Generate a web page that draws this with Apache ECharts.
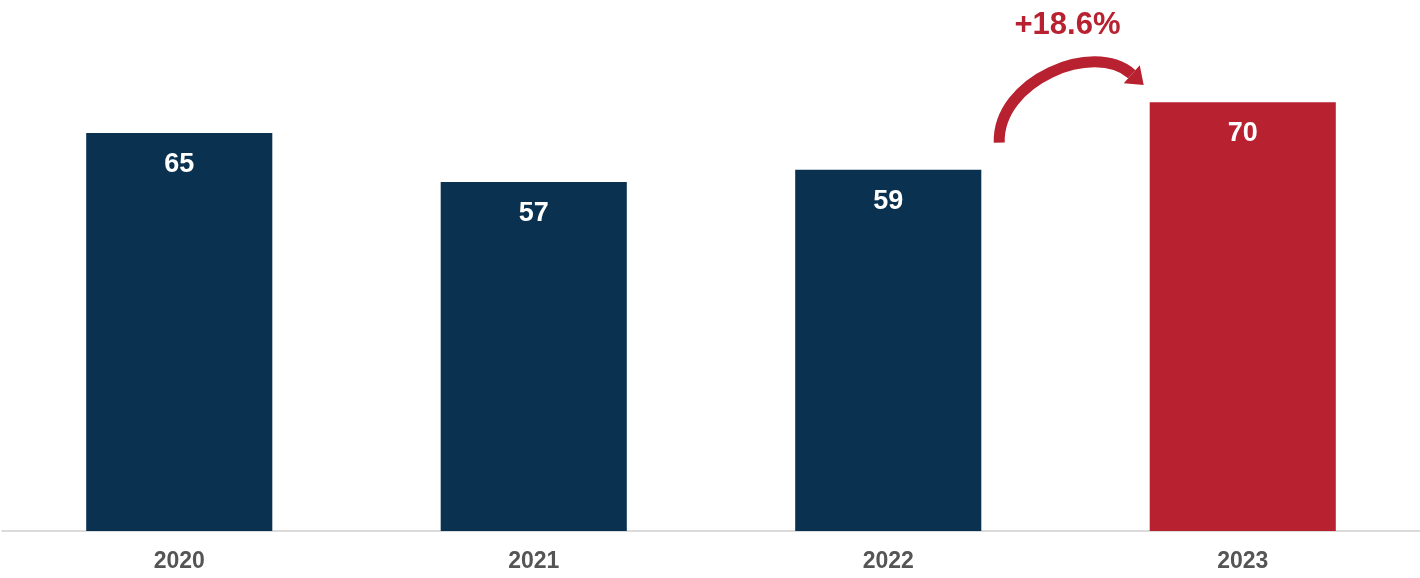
<!DOCTYPE html>
<html><head><meta charset="utf-8">
<script src="https://cdn.jsdelivr.net/npm/echarts@6/dist/echarts.min.js"></script>
<style>html,body{margin:0;padding:0;background:#fff}#c{width:1420px;height:578px}</style>
</head><body><div id="c"></div>
<script>
var categories = ['2020', '2021', '2022', '2023'];
var values = [65, 57, 59, 70];
var growthLabel = '+18.6%';

var NAVY = '#0a3150', RED = '#b8212f';
var chart = echarts.init(document.getElementById('c'), null, {renderer: 'canvas'});
chart.setOption({
  animation: false,
  grid: {left: 2, right: 0, top: 41, bottom: 47},
  xAxis: {
    type: 'category', data: categories,
    axisLine: {lineStyle: {color: '#cfcfcf', width: 1.5}},
    axisTick: {show: false},
    axisLabel: {color: '#555', fontSize: 23, fontWeight: 'bold', fontFamily: 'Liberation Sans, Arial, sans-serif', margin: 19}
  },
  yAxis: {type: 'value', min: 0, max: 80, show: false, splitLine: {show: false}},
  series: [{
    type: 'bar', barWidth: '52.5%',
    data: values.map(function (v, i) {
      return {value: v, itemStyle: {color: i === values.length - 1 ? RED : NAVY}};
    }),
    label: {
      show: true, position: 'insideTop', distance: 18,
      color: '#fff', fontSize: 27, fontWeight: 'bold', fontFamily: 'Liberation Sans, Arial, sans-serif'
    }
  }]
});

var p22 = chart.convertToPixel({seriesIndex: 0}, [categories[2], values[2]]);
var p23 = chart.convertToPixel({seriesIndex: 0}, [categories[3], values[3]]);
var sx = p22[0] + 111, sy = p22[1] - 27;
var ex = p23[0] - 111, ey = p23[1] - 28;
var c1 = [sx - 2, sy - 62], c2 = [ex - 38, ey - 34];
var dx = ex - c2[0], dy = ey - c2[1], L = Math.sqrt(dx * dx + dy * dy);
dx /= L; dy /= L;
var px = -dy, py = dx;
var tip = [ex + dx * 16, ey + dy * 16];
chart.setOption({
  graphic: [
    {type: 'bezierCurve', shape: {x1: sx, y1: sy, x2: ex, y2: ey, cpx1: c1[0], cpy1: c1[1], cpx2: c2[0], cpy2: c2[1]},
     style: {stroke: RED, lineWidth: 11, fill: null, lineCap: 'butt'}},
    {type: 'polygon', shape: {points: [[ex + px * 12, ey + py * 12], [ex - px * 12, ey - py * 12], tip]},
     style: {fill: RED}},
    {type: 'text', x: (p22[0] + p23[0]) / 2 + 2, y: 25,
     style: {text: growthLabel, fill: RED, fontSize: 31, fontWeight: 'bold', fontFamily: 'Liberation Sans, Arial, sans-serif', align: 'center', verticalAlign: 'middle'}}
  ]
});
</script></body></html>
